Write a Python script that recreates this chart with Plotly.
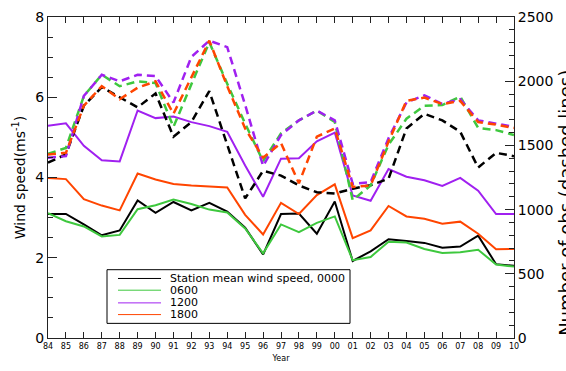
import plotly.graph_objects as go

# Years and their two-digit tick labels
years = list(range(1984, 2011))
year_labels = [str(y)[2:] for y in years]

# Station mean wind speed (m/s) by observation hour
speed_0000 = [3.09, 3.09, 2.83, 2.56, 2.68, 3.43, 3.12, 3.39, 3.18, 3.37, 3.15, 2.75, 2.08,
              3.09, 3.10, 2.60, 3.40, 1.92, 2.16, 2.46, 2.42, 2.37, 2.25, 2.28, 2.55, 1.84, 1.80]
speed_0600 = [3.11, 2.91, 2.78, 2.53, 2.57, 3.21, 3.31, 3.45, 3.34, 3.20, 3.13, 2.73, 2.11,
              2.83, 2.64, 2.87, 3.03, 1.94, 2.02, 2.40, 2.38, 2.22, 2.12, 2.14, 2.20, 1.83, 1.78]
speed_1200 = [5.29, 5.35, 4.79, 4.43, 4.40, 5.67, 5.48, 5.52, 5.38, 5.28, 5.14, 4.30, 3.52,
              4.47, 4.48, 4.90, 5.12, 3.55, 3.42, 4.21, 4.02, 3.93, 3.79, 3.99, 3.67, 3.09, 3.09]
speed_1800 = [3.99, 3.96, 3.46, 3.30, 3.18, 4.10, 3.95, 3.84, 3.80, 3.78, 3.75, 3.07, 2.58,
              3.37, 3.09, 3.56, 3.83, 2.49, 2.68, 3.29, 3.03, 2.97, 2.85, 2.90, 2.60, 2.21, 2.22]

# Number of observations by hour (dashed lines, right axis)
obs_0000 = [1365, 1430, 1809, 1953, 1875, 1796, 1905, 1568, 1682, 1923, 1505, 1087, 1302,
            1265, 1188, 1135, 1125, 1163, 1190, 1240, 1632, 1746, 1695, 1606, 1328, 1442, 1416]
obs_0600 = [1434, 1480, 1885, 2050, 1961, 1999, 1986, 1644, 1976, 2303, 1980, 1670, 1377,
            1594, 1695, 1771, 1682, 1074, 1188, 1505, 1708, 1809, 1814, 1880, 1636, 1619, 1581]
obs_1200 = [1404, 1416, 1885, 2050, 1999, 2050, 2040, 1834, 2189, 2316, 2265, 1815, 1340,
            1581, 1695, 1771, 1695, 1201, 1214, 1556, 1834, 1890, 1822, 1860, 1695, 1670, 1644]
obs_1800 = [1429, 1442, 1809, 1961, 1860, 1949, 1999, 1746, 2030, 2316, 1961, 1632, 1404,
            1518, 1205, 1568, 1632, 1176, 1188, 1530, 1847, 1872, 1822, 1847, 1682, 1662, 1636]

series_names = ["Station mean wind speed, 0000", "0600", "1200", "1800"]
colors = ["#000000", "#3ec83e", "#a020f0", "#ff4500"]
speeds = [speed_0000, speed_0600, speed_1200, speed_1800]
counts = [obs_0000, obs_0600, obs_1200, obs_1800]

W, H = 566, 371
ML, MR, MT, MB = 48, 52, 9, 33
PW, PH = W - ML - MR, H - MT - MB
FONT = "DejaVu Sans"

fig = go.Figure()

for cnt, col in zip(counts, colors):
    fig.add_trace(go.Scatter(x=years, y=cnt, mode="lines", yaxis="y2", showlegend=False,
                             line=dict(color=col, width=2.5, dash="8px,5px")))
for spd, col, name in zip(speeds, colors, series_names):
    fig.add_trace(go.Scatter(x=years, y=spd, mode="lines", name=name, showlegend=False,
                             line=dict(color=col, width=2)))


def px(xp):
    return (xp - ML) / PW


def py(yp):
    return (MT + PH - yp) / PH


# Legend box drawn in paper space
shapes = [dict(type="rect", xref="paper", yref="paper", x0=px(107), x1=px(350),
               y0=py(323), y1=py(268), line=dict(color="black", width=1),
               fillcolor="white", layer="above")]
annotations = []
rows = [277, 289, 302, 314]
for r, col, name in zip(rows, colors, series_names):
    shapes.append(dict(type="line", xref="paper", yref="paper", x0=px(118), x1=px(161),
                       y0=py(r), y1=py(r), line=dict(color=col, width=1), layer="above"))
    annotations.append(dict(xref="paper", yref="paper", x=px(168), y=py(r), text=name,
                            showarrow=False, xanchor="left", yanchor="middle",
                            font=dict(family=FONT, size=11, color="black")))

# Right-hand axis title, running off the page edge
annotations.append(dict(xref="paper", yref="paper", x=px(553), y=py(200),
                        text="Number of obs (dashed lines)", textangle=-90,
                        showarrow=False, xanchor="left", yanchor="middle",
                        font=dict(family=FONT, size=18, color="black")))

fig.update_layout(
    width=W, height=H,
    margin=dict(l=ML, r=MR, t=MT, b=MB, pad=0),
    paper_bgcolor="white", plot_bgcolor="white",
    showlegend=False,
    font=dict(family=FONT, color="black"),
    shapes=shapes,
    annotations=annotations,
    xaxis=dict(range=[1984, 2010], tickvals=years, ticktext=year_labels,
               ticks="inside", ticklen=6, tickcolor="#222", showline=True,
               linecolor="#222", linewidth=1, mirror="ticks", showgrid=False,
               zeroline=False, tickfont=dict(size=8),
               title=dict(text="Year", font=dict(size=8), standoff=5)),
    yaxis=dict(range=[0, 8], tickvals=[0, 2, 4, 6, 8], ticks="inside", ticklen=9,
               tickcolor="#222", showline=True, linecolor="#222", linewidth=1,
               showgrid=False, zeroline=False, tickfont=dict(size=14),
               minor=dict(dtick=0.5, ticks="inside", ticklen=5, tickcolor="#222",
                          showgrid=False),
               title=dict(text="Wind speed(ms<sup>-1</sup>)", font=dict(size=14),
                          standoff=6)),
    yaxis2=dict(range=[0, 2500], tickvals=[0, 500, 1000, 1500, 2000, 2500],
                overlaying="y", side="right", ticks="inside", ticklen=9,
                tickcolor="#222", showline=True, linecolor="#222", linewidth=1,
                showgrid=False, zeroline=False, tickfont=dict(size=14),
                minor=dict(dtick=100, ticks="inside", ticklen=5, tickcolor="#222",
                           showgrid=False)),
)

fig.write_html("out.html")
